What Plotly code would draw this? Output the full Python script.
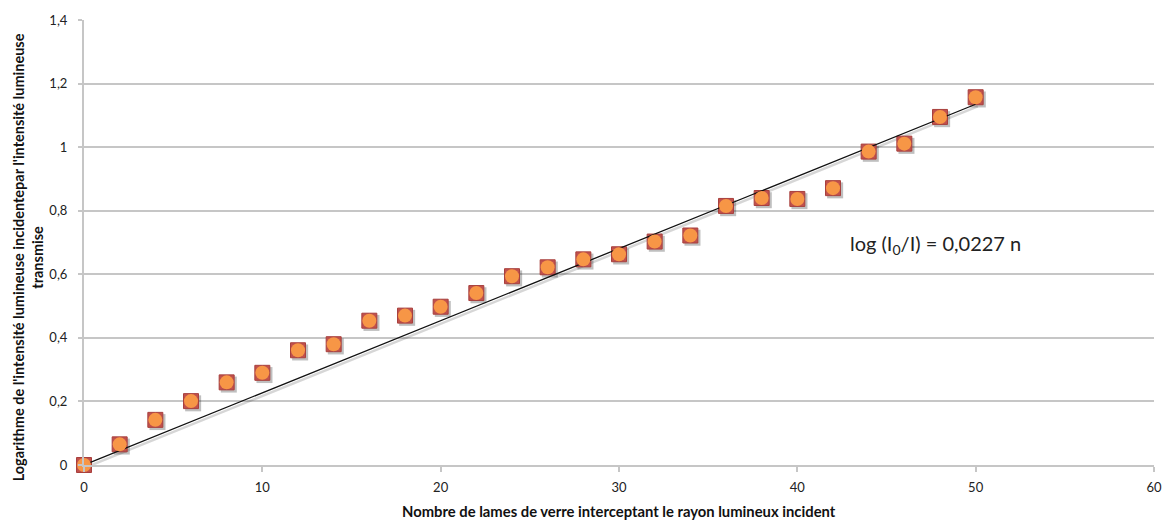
import plotly.graph_objects as go

# Nombre de lames de verre et absorbance mesurée
lames = [0, 2, 4, 6, 8, 10, 12, 14, 16, 18, 20, 22, 24, 26, 28, 30, 32, 34, 36, 38, 40, 42, 44, 46, 48, 50]
log_ratio = [0.0, 0.065, 0.142, 0.201, 0.26, 0.29, 0.361, 0.38, 0.454, 0.47, 0.498, 0.541, 0.594, 0.622,
             0.647, 0.663, 0.703, 0.722, 0.815, 0.84, 0.837, 0.871, 0.986, 1.011, 1.095, 1.157]

# Droite de régression passant par l'origine
pente = 0.0227
fit_x = [0, 50]
fit_y = [pente * v for v in fit_x]

X_RANGE = [0, 60]
Y_RANGE = [0, 1.4]

FONT = "Lato"
GRID = "#C6C6C6"
TXT = "#222222"

fig = go.Figure()

# axe principal : grille et graduations seulement
fig.add_trace(go.Scatter(x=[None], y=[None], showlegend=False, hoverinfo="skip"))

# ombres portées (axes superposés légèrement décalés)
fig.add_trace(go.Scatter(x=fit_x, y=fit_y, mode="lines", xaxis="x2", yaxis="y2", cliponaxis=False,
                         line=dict(color="rgba(0,0,0,0.16)", width=2.5), hoverinfo="skip", showlegend=False))
fig.add_trace(go.Scatter(x=lames, y=log_ratio, mode="markers", xaxis="x2", yaxis="y2", cliponaxis=False,
                         marker=dict(symbol="square", size=16, color="rgba(0,0,0,0.25)", line=dict(width=0)),
                         hoverinfo="skip", showlegend=False))

# séries visibles
fig.add_trace(go.Scatter(x=lames, y=log_ratio, mode="markers", xaxis="x3", yaxis="y3", cliponaxis=False,
                         marker=dict(symbol="square", size=15, color="#C0504D",
                                     line=dict(color="#A8403D", width=1)),
                         showlegend=False))
fig.add_trace(go.Scatter(x=fit_x, y=fit_y, mode="lines", xaxis="x3", yaxis="y3", cliponaxis=False,
                         line=dict(color="#111111", width=1.3), showlegend=False))
fig.add_trace(go.Scatter(x=lames, y=log_ratio, mode="markers", xaxis="x3", yaxis="y3", cliponaxis=False,
                         marker=dict(symbol="circle", size=14, color="#F79646", line=dict(width=0)),
                         showlegend=False))

L, R, T, B = 84, 14, 15, 58
W, H = 1174, 523
pw, ph = W - L - R, H - T - B

fig.update_layout(
    width=W, height=H,
    margin=dict(l=L, r=R, t=T, b=B),
    paper_bgcolor="white", plot_bgcolor="white",
    separators=", ",
    font=dict(family=FONT, size=13, color=TXT),
    xaxis=dict(range=X_RANGE, tickvals=[0, 10, 20, 30, 40, 50, 60], showgrid=False, zeroline=False,
               showline=True, linecolor=GRID, linewidth=2, ticks="outside", ticklen=5, tickwidth=2,
               tickcolor=GRID, ticklabelstandoff=4, tickfont=dict(size=13, color=TXT)),
    yaxis=dict(range=Y_RANGE, tickvals=[0, 0.2, 0.4, 0.6, 0.8, 1, 1.2, 1.4], showgrid=True,
               gridcolor=GRID, gridwidth=2, zeroline=False, showline=True, linecolor=GRID, linewidth=2,
               ticks="outside", ticklen=4, tickwidth=2, tickcolor=GRID, ticklabelstandoff=8,
               tickfont=dict(size=13, color=TXT)),
    xaxis2=dict(range=[X_RANGE[0] - 0.12, X_RANGE[1] - 0.12], overlaying="x", visible=False),
    yaxis2=dict(range=[Y_RANGE[0] + 0.007, Y_RANGE[1] + 0.007], overlaying="y", visible=False),
    xaxis3=dict(range=X_RANGE, overlaying="x", visible=False),
    yaxis3=dict(range=Y_RANGE, overlaying="y", visible=False),
    annotations=[
        dict(text="log (I<sub>0</sub>/I) = 0,0227 n",
             x=(940 - L) / pw, y=(H - B - 242) / ph, xref="paper", yref="paper",
             showarrow=False, font=dict(size=20, color=TXT), xanchor="center", yanchor="middle"),
        dict(text="Nombre de lames de verre interceptant le rayon lumineux incident", x=(622 - L) / pw, y=0,
             xref="paper", yref="paper", showarrow=False, yshift=-46, xanchor="center",
             font=dict(size=14.8, color="#111111", family=FONT, weight="bold"), yanchor="middle"),
        dict(text="Logarithme de l'intensité lumineuse incidentepar l'intensité lumineuse<br>transmise",
             x=0, y=(H - B - 255) / ph, xref="paper", yref="paper", xshift=-56, showarrow=False,
             textangle=-90, xanchor="center", yanchor="middle",
             font=dict(size=14.5, color="#111111", family=FONT, weight="bold")),
    ],
)

fig.write_html("out.html")
